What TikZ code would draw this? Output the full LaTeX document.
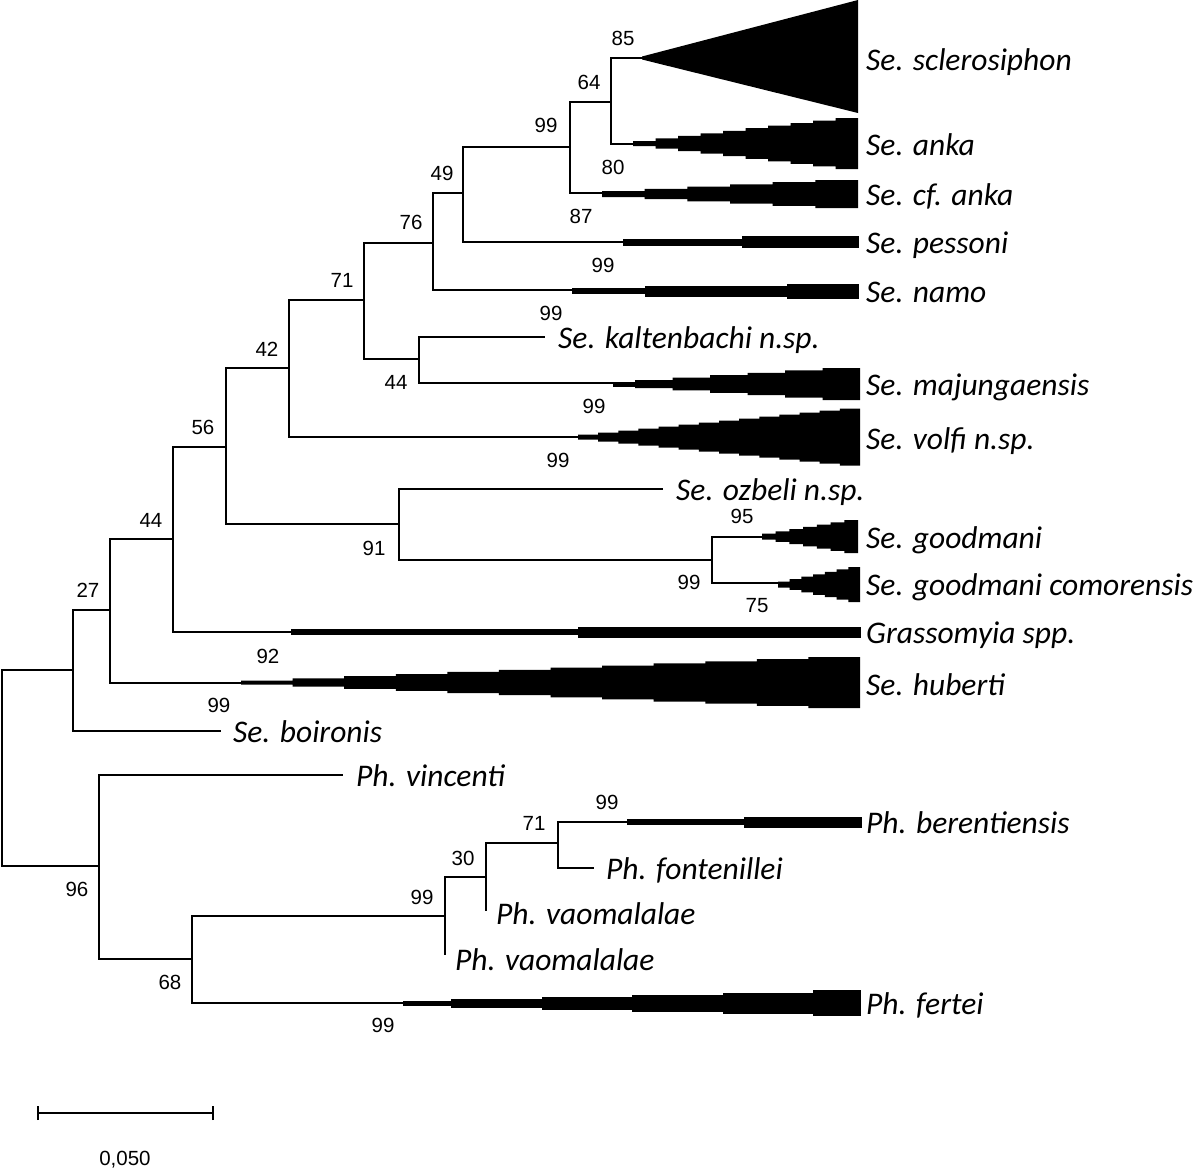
\documentclass[tikz,border=0pt]{standalone}
\usepackage{fontspec}
\setmainfont{Carlito}
\newfontfamily\numfont{Liberation Sans}
% stepped wedge: x0, x1, yc, h0, h1, n
\newcommand{\stepbar}[6]{%
  \fill (#1,#3)
    \foreach \i [evaluate=\i as \stpA using {#1+(\i-1)*(#2-#1)/#6},
                 evaluate=\i as \stpB using {#1+\i*(#2-#1)/#6},
                 evaluate=\i as \stpH using {(#4+(\i-1)*(#5-#4)/max(#6-1,1))/2}] in {1,...,#6}
      { -- (\stpA,#3-\stpH) -- (\stpB,#3-\stpH) }
    \foreach \i [evaluate=\i as \stpA using {#1+(\i-1)*(#2-#1)/#6},
                 evaluate=\i as \stpB using {#1+\i*(#2-#1)/#6},
                 evaluate=\i as \stpH using {(#4+(\i-1)*(#5-#4)/max(#6-1,1))/2}] in {#6,...,1}
      { -- (\stpB,#3+\stpH) -- (\stpA,#3+\stpH) }
    -- cycle;}
% single bar segment: x0, x1, yc, h
\newcommand{\barseg}[4]{\fill (#1,#3-#4/2) rectangle (#2+0.5,#3+#4/2);}
\begin{document}
\begin{tikzpicture}[x=1pt,y=-1pt,
  branch/.style={line width=2pt},
  taxon/.style={anchor=base west, inner sep=0pt, font=\fontsize{31.5}{33}\selectfont\itshape},
  boot/.style={inner sep=0pt, font=\numfont\fontsize{20.5}{22}\selectfont}]
\useasboundingbox (0,0) rectangle (1200,1170);

% internal nodes
\coordinate (R)     at (2,767.5);
\coordinate (n27)   at (73,670);
\coordinate (n44)   at (110,610);
\coordinate (n56)   at (173,539);
\coordinate (n42a)  at (226,447);
\coordinate (n42)   at (289,368);
\coordinate (n71)   at (364,300);
\coordinate (n76)   at (433,243);
\coordinate (n49)   at (463,193);
\coordinate (n99a)  at (570,147);
\coordinate (n64)   at (611,102);
\coordinate (n44b)  at (419,359);
\coordinate (n91)   at (399,524);
\coordinate (ngood) at (712,560);
\coordinate (n96)   at (99,866);
\coordinate (n68)   at (192,959);
\coordinate (nph)   at (445,916);
\coordinate (n30)   at (486,877);
\coordinate (n71b)  at (558,843);
% leaf ends
\coordinate (sclero)  at (642,58);
\coordinate (anka)    at (633,144);
\coordinate (cfanka)  at (602,193);
\coordinate (pessoni) at (623,242);
\coordinate (namo)    at (572,290);
\coordinate (kalt)    at (545,337);
\coordinate (majung)  at (613,383);
\coordinate (volfi)   at (578,437);
\coordinate (ozbeli)  at (663,489);
\coordinate (good)    at (762,537);
\coordinate (comor)   at (778,583);
\coordinate (grass)   at (291,632);
\coordinate (huberti) at (241,683);
\coordinate (boiron)  at (221,731);
\coordinate (vincent) at (343,775);
\coordinate (beren)   at (627,822);
\coordinate (fonten)  at (594,868);
\coordinate (vaoA)    at (486,911);
\coordinate (vaoB)    at (445,955);
\coordinate (fertei)  at (403,1003);

\foreach \a/\b in {R/n27,R/n96,n27/n44,n27/boiron,n44/n56,n44/huberti,
  n56/n42a,n56/grass,n42a/n42,n42a/n91,n42/n71,n42/volfi,n71/n76,n71/n44b,
  n76/n49,n76/namo,n49/n99a,n49/pessoni,n99a/n64,n99a/cfanka,n64/sclero,n64/anka,
  n44b/kalt,n44b/majung,n91/ozbeli,n91/ngood,ngood/good,ngood/comor,
  n96/vincent,n96/n68,n68/nph,n68/fertei,nph/n30,nph/vaoB,n30/n71b,n30/vaoA,
  n71b/beren,n71b/fonten}
  \draw[branch] (\a) |- (\b);

% collapsed clades
\fill (642,56.5) -- (858,0) -- (858,113) -- (642,59.5) -- cycle;
\stepbar{633}{858}{143.5}{5}{51}{10}
\stepbar{602}{858}{194}{6}{28}{6}
\barseg{623}{742}{242}{7}\barseg{742}{858}{242}{12}
\barseg{572}{645}{291}{6}\barseg{645}{787}{291}{11}\barseg{787}{858}{291}{15}
\barseg{613}{635}{384}{5}
\stepbar{635}{860}{384}{8}{32}{6}
\stepbar{578}{860}{437}{5}{57}{14}
\stepbar{762}{858}{536.5}{6}{33}{7}
\stepbar{778}{860}{584.5}{6}{35}{7}
\barseg{291}{578}{632}{6}\barseg{578}{860}{632}{11}
\stepbar{241}{860}{682.5}{4}{51}{12}
\barseg{627}{744}{822}{6}\barseg{744}{861}{822}{11}
\barseg{403}{451}{1003}{5}\barseg{451}{542}{1003}{9}\barseg{542}{632}{1003}{13}
\barseg{632}{723}{1003}{17}\barseg{723}{813}{1003}{21}\barseg{813}{860}{1003}{26}

% taxon labels
\node[taxon] (t1)  at (866,70)   {Se. sclerosiphon};
\node[taxon] (t2)  at (866,155)  {Se. anka};
\node[taxon] (t3)  at (866,205)  {Se. cf. anka};
\node[taxon] (t4)  at (866,253)  {Se. pessoni};
\node[taxon] (t5)  at (866,302)  {Se. namo};
\node[taxon] (t6)  at (558,348)  {Se. kaltenbachi n.sp.};
\node[taxon] (t7)  at (866,395)  {Se. majungaensis};
\node[taxon] (t8)  at (866,449)  {Se. volfi n.sp.};
\node[taxon] (t9)  at (676,500)  {Se. ozbeli n.sp.};
\node[taxon] (t10) at (866,548)  {Se. goodmani};
\node[taxon] (t11) at (866,595)  {Se. goodmani comorensis};
\node[taxon] (t12) at (866,643)  {Grassomyia spp.};
\node[taxon] (t13) at (866,695)  {Se. huberti};
\node[taxon] (t14) at (233,742)  {Se. boironis};
\node[taxon] (t15) at (356,786)  {Ph. vincenti};
\node[taxon] (t16) at (866,833)  {Ph. berentiensis};
\node[taxon] (t17) at (606,879)  {Ph. fontenillei};
\node[taxon] (t18) at (496,924)  {Ph. vaomalalae};
\node[taxon] (t19) at (455,970)  {Ph. vaomalalae};
\node[taxon] (t20) at (866,1014) {Ph. fertei};

% bootstrap values
\node[boot] (b1)  at (623,38)   {85};
\node[boot] (b2)  at (589,82)   {64};
\node[boot] (b3)  at (546,125)  {99};
\node[boot] (b4)  at (613,167)  {80};
\node[boot] (b5)  at (581,216)  {87};
\node[boot] (b6)  at (442,173)  {49};
\node[boot] (b7)  at (411,222)  {76};
\node[boot] (b8)  at (603,265)  {99};
\node[boot] (b9)  at (342,280)  {71};
\node[boot] (b10) at (551,313)  {99};
\node[boot] (b11) at (267,349)  {42};
\node[boot] (b12) at (396,382)  {44};
\node[boot] (b13) at (594,406)  {99};
\node[boot] (b14) at (203,427)  {56};
\node[boot] (b15) at (558,460)  {99};
\node[boot] (b16) at (151,520)  {44};
\node[boot] (b17) at (742,516)  {95};
\node[boot] (b18) at (374,548)  {91};
\node[boot] (b19) at (689,582)  {99};
\node[boot] (b20) at (88,590)   {27};
\node[boot] (b21) at (757,606)  {75};
\node[boot] (b22) at (268,656)  {92};
\node[boot] (b23) at (219,705)  {99};
\node[boot] (b24) at (607,802)  {99};
\node[boot] (b25) at (534,823)  {71};
\node[boot] (b26) at (463,858)  {30};
\node[boot] (b27) at (422,897)  {99};
\node[boot] (b28) at (77,889)   {96};
\node[boot] (b29) at (170,982)  {68};
\node[boot] (b30) at (383,1025) {99};

% scale bar
\coordinate (sbL) at (38,1113);
\coordinate (sbR) at (213,1113);
\draw[branch] (sbL) -- (sbR);
\draw[branch] ([yshift=-7pt]sbL) -- ([yshift=7pt]sbL);
\draw[branch] ([yshift=-7pt]sbR) -- ([yshift=7pt]sbR);
\node[boot] (sbt) at (125,1160) {0,050};
\end{tikzpicture}
\end{document}
